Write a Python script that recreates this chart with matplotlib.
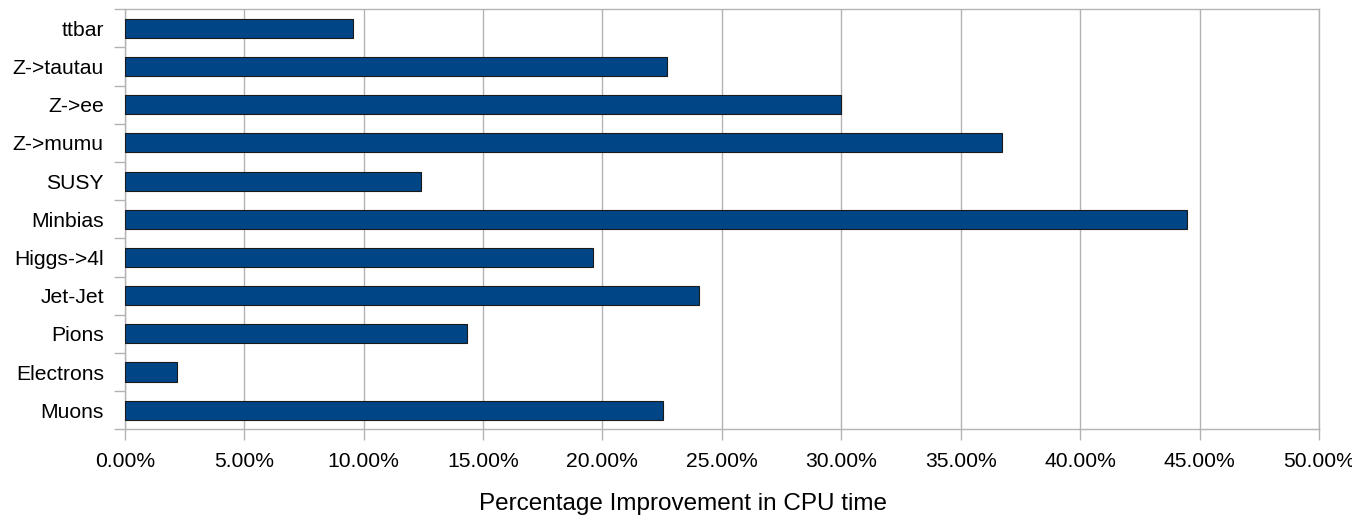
import matplotlib
matplotlib.use("Agg")
import matplotlib.pyplot as plt
from matplotlib.ticker import FuncFormatter, FixedLocator

plt.rcParams['font.family'] = ['Liberation Sans', 'DejaVu Sans']

# categories from top to bottom as shown
samples = ['ttbar', 'Z->tautau', 'Z->ee', 'Z->mumu', 'SUSY', 'Minbias',
           'Higgs->4l', 'Jet-Jet', 'Pions', 'Electrons', 'Muons']
improvement = [9.54, 22.70, 29.97, 36.74, 12.41, 44.46,
               19.62, 24.04, 14.31, 2.19, 22.55]
x_ticks = [0, 5, 10, 15, 20, 25, 30, 35, 40, 45, 50]

fig = plt.figure(figsize=(13.52, 5.15), dpi=100)
ax = fig.add_axes([124.7 / 1352, 1 - 429.3 / 515, (1319 - 124.7) / 1352, (429.3 - 9.3) / 515])

ypos = list(range(len(samples)))
ax.barh(ypos, improvement, height=0.5, color='#004586', edgecolor='#1a1a1a',
        linewidth=0.8, zorder=3)

ax.set_xlim(0, 50)
ax.set_ylim(len(samples) - 0.5, -0.5)

ax.set_xticks(x_ticks)
ax.xaxis.set_major_formatter(FuncFormatter(lambda v, p: '%.2f%%' % v))
ax.set_yticks(ypos)
ax.set_yticklabels(samples)
# category separators as minor ticks
ax.yaxis.set_minor_locator(FixedLocator([i - 0.5 for i in range(len(samples) + 1)]))

ax.grid(axis='x', color='#b3b3b3', linewidth=1.0, zorder=0)
for s in ax.spines.values():
    s.set_color('#b3b3b3')
    s.set_linewidth(1.0)

ax.tick_params(axis='x', which='major', length=8, width=1.0,
               labelsize=15.2, pad=8, color='#b3b3b3', labelcolor='#000000')
ax.tick_params(axis='y', which='major', length=0, labelsize=15.2, pad=15)
ax.tick_params(axis='y', which='minor', length=8, color='#b3b3b3', width=1.0)

fig.text(683 / 1352, 1 - 510 / 515, 'Percentage Improvement in CPU time',
         ha='center', va='baseline', fontsize=17.5)

fig.savefig('out.png', dpi=100)
